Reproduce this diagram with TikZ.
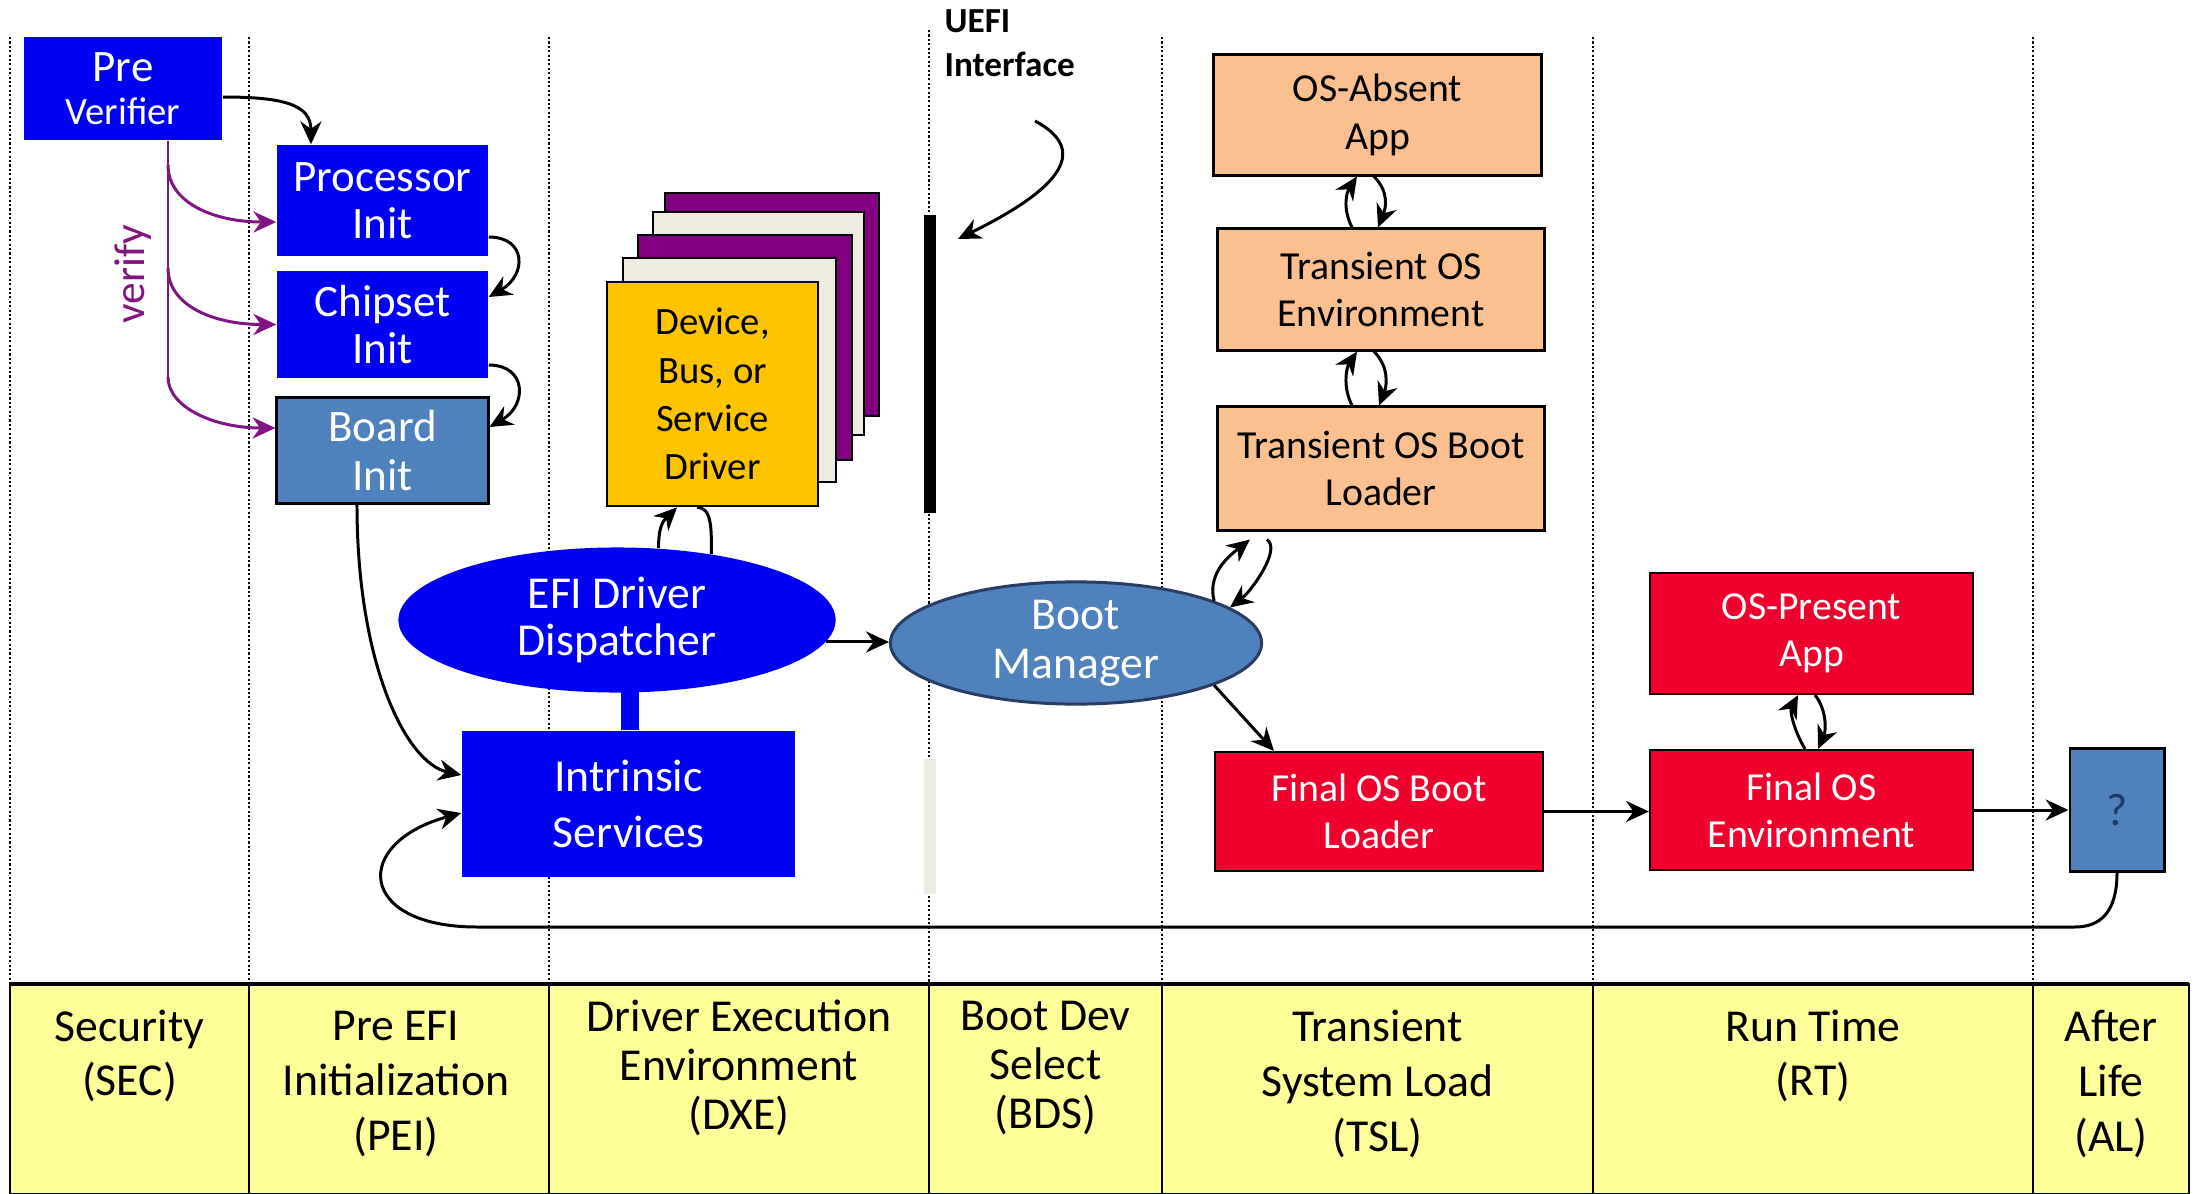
\documentclass[tikz,border=0pt]{standalone}
\usepackage{fontspec}
\setmainfont{Carlito}
\usetikzlibrary{arrows.meta,shapes.geometric}
\definecolor{efiblue}{RGB}{0,0,245}
\definecolor{steel}{RGB}{79,129,189}
\definecolor{peach}{RGB}{250,192,144}
\definecolor{efired}{RGB}{240,0,45}
\definecolor{gold}{RGB}{255,196,0}
\definecolor{cream}{RGB}{238,236,225}
\definecolor{stackpurple}{RGB}{128,0,128}
\definecolor{band}{RGB}{255,255,153}
\definecolor{vpurple}{RGB}{128,20,128}
\definecolor{navy}{RGB}{31,56,100}
\definecolor{ringnavy}{RGB}{40,60,100}
\begin{document}
\begin{tikzpicture}[x=0.01cm,y=-0.01cm,
  boxbase/.style={rectangle, inner sep=0pt, align=center},
  bluebox/.style={boxbase, fill=efiblue, text=white, font=\fontsize{12.8}{13.4}\selectfont},
  steelbox/.style={boxbase, fill=steel, draw=black, line width=0.85pt, text=white, font=\fontsize{12.8}{13.8}\selectfont},
  peachbox/.style={boxbase, fill=peach, draw=black, line width=0.85pt, text=black, font=\fontsize{11.3}{13.6}\selectfont},
  redbox/.style={boxbase, fill=efired, draw=black, line width=0.6pt, text=white, font=\fontsize{11.3}{13.4}\selectfont},
  layer/.style={draw=black, line width=0.75pt},
  conn/.style={line width=0.85pt, draw=black},
  arr/.style={conn, -{Stealth[length=6.5pt,width=6pt]}},
  varr/.style={line width=0.85pt, draw=vpurple, -{Stealth[length=6.5pt,width=6pt]}},
  dotline/.style={line width=0.65pt, dash pattern=on 0.6pt off 0.65pt},
  phase/.style={align=center, font=\fontsize{13}{15.6}\selectfont},
]
\useasboundingbox (0,0) rectangle (2203,1194);
\fill[white] (0,0) rectangle (2203,1194);

% dotted phase separators
\foreach \xx in {10,249,549,1162,1593,2033} {\draw[dotline] (\xx,37) -- (\xx,984);}
\draw[dotline] (929,30) -- (929,984);

% phase band
\draw[fill=band, line width=0.7pt] (10,984) rectangle (2189,1194);
\draw[line width=1.1pt] (10,984) -- (2189,984);
\foreach \xx in {249,549,929,1162,1593,2033} {\draw[line width=0.7pt] (\xx,984) -- (\xx,1194);}
\node[phase] (sec) at (129.5,1056) {Security\\(SEC)};
\node[phase] (pei) at (396,1084) {Pre EFI\\Initialization\\(PEI)};
\node[phase, font=\fontsize{13}{14}\selectfont] (dxe) at (739,1068) {Driver Execution\\Environment\\(DXE)};
\node[phase, font=\fontsize{13}{14}\selectfont] (bds) at (1045.5,1068) {Boot Dev\\Select\\(BDS)};
\node[phase] (tsl) at (1377.5,1084) {Transient\\System Load\\(TSL)};
\node[phase] (rt) at (1813,1056) {Run Time\\(RT)};
\node[phase] (al) at (2111,1084) {After\\Life\\(AL)};

% SEC / PEI
\node[bluebox, minimum width=1.98cm, minimum height=1.03cm, font=\fontsize{11}{12.2}\selectfont] (pv) at (123,88.5) {{\fontsize{12.8}{12.2}\selectfont Pre}\\Verifier};
\node[bluebox, minimum width=2.11cm, minimum height=1.11cm] (proc) at (382.5,200.5) {Processor\\Init};
\node[bluebox, minimum width=2.11cm, minimum height=1.07cm] (chip) at (382.5,324.5) {Chipset\\Init};
\node[steelbox, minimum width=2.11cm, minimum height=1.05cm] (board) at (382.5,450.5) {Board\\Init};
\node[rotate=90, text=vpurple, font=\fontsize{12.3}{14}\selectfont] (verify) at (133,274) {verify};

% driver stack
\draw[layer, fill=stackpurple] (665,193) rectangle (879,416);
\draw[layer, fill=cream] (653,212) rectangle (864,435);
\draw[layer, fill=stackpurple] (638,235) rectangle (852,460);
\draw[layer, fill=cream] (623,258) rectangle (836,482);
\node[boxbase, fill=gold, draw=black, line width=0.75pt, minimum width=2.11cm, minimum height=2.24cm, font=\fontsize{11}{13.7}\selectfont] (drv) at (712.5,394) {Device,\\Bus, or\\Service\\Driver};

\node[ellipse, inner sep=0pt, fill=efiblue, text=white, align=center, minimum width=4.37cm, minimum height=1.45cm, font=\fontsize{13}{13.6}\selectfont] (disp) at (617,620) {EFI Driver\\Dispatcher};
\node[bluebox, minimum width=3.33cm, minimum height=1.46cm, font=\fontsize{13}{15.9}\selectfont] (intr) at (628.5,804) {Intrinsic\\Services};
\draw[efiblue, line width=0.18cm, shorten >=-2pt] ([xshift=0.015cm]intr.north) -- ([xshift=0.015cm]intr.north |- disp.south);

% UEFI interface
\node[boxbase, fill=black, minimum width=0.12cm, minimum height=2.98cm] (ubar) at (930,364) {};
\node[boxbase, fill=cream, minimum width=0.12cm, minimum height=1.35cm] (gbar) at (930,826.5) {};
\node[anchor=west, align=left, inner sep=0pt, font=\bfseries\fontsize{10}{12.4}\selectfont] (uefi) at (944,43) {UEFI\\Interface};
\coordinate (uefistart) at (1035,121);
\coordinate (ueftip) at (958,239);
\draw[arr] (uefistart) .. controls (1080,145) and (1078,180) .. (ueftip);

% BDS / TSL
\node[ellipse, inner sep=0pt, fill=steel, draw=ringnavy, line width=0.85pt, text=white, align=center, minimum width=3.71cm, minimum height=1.20cm, font=\fontsize{13}{14}\selectfont] (bm) at (1076,643) {Boot\\Manager};
\node[peachbox, minimum width=3.27cm, minimum height=1.20cm] (osabs) at (1377.5,115) {OS-Absent\\App};
\node[peachbox, minimum width=3.26cm, minimum height=1.21cm] (tenv) at (1381,289.5) {Transient OS\\Environment};
\node[peachbox, minimum width=3.26cm, minimum height=1.23cm] (tload) at (1381,468.5) {Transient OS Boot\\Loader};
\node[redbox, minimum width=3.28cm, minimum height=1.19cm] (floader) at (1379,811.5) {Final OS Boot\\Loader};

% RT / AL
\node[redbox, minimum width=3.23cm, minimum height=1.21cm] (ospres) at (1811.5,633.5) {OS-Present\\App};
\node[redbox, minimum width=3.23cm, minimum height=1.20cm] (fenv) at (1811.5,810) {Final OS\\Environment};
\node[boxbase, fill=steel, draw=black, line width=0.85pt, text=navy, minimum width=0.94cm, minimum height=1.22cm, font=\fontsize{13}{15}\selectfont] (q) at (2117,810) {?};

% PEI connectors
\draw[arr] ([yshift=-0.085cm]pv.east) .. controls +(60,0) and +(0,-40) .. ([xshift=-0.715cm]proc.north);
\draw[arr] ([yshift=-0.365cm]proc.east) .. controls +(38,0) and +(38,-22) .. ([yshift=0.275cm]chip.east);
\draw[arr] ([yshift=-0.405cm]chip.east) .. controls +(38,0) and +(38,-22) .. ([yshift=0.235cm]board.east);

% verify connectors
\coordinate (trunk) at (168,377);
\coordinate (b1) at (168,165);
\coordinate (b2) at (168,268);
\draw[line width=0.85pt, vpurple] (trunk |- pv.south) -- (trunk);
\draw[varr] (b1) .. controls +(0,38) and +(-62,0) .. ([yshift=-0.215cm]proc.west);
\draw[varr] (b2) .. controls +(0,38) and +(-62,0) .. (chip.west);
\draw[varr] (trunk) .. controls +(0,30) and +(-62,0) .. ([yshift=0.225cm]board.west);

% DXE connectors
\draw[arr] ([xshift=-0.255cm]board.south) .. controls +(0,160) and +(-55,-12) .. ([yshift=0.29cm]intr.west);
\draw[arr] (disp.60) .. controls +(0,-25) and +(-12,12) .. ([xshift=-0.355cm]drv.south);
\draw[conn] ([xshift=-0.155cm]drv.south) .. controls +(15,0) and +(0,-25) .. (disp.35);
\draw[arr] (disp.-6) -- (disp.-6 -| bm.west);

% TSL connectors
\draw[arr] ([xshift=-0.29cm]tenv.north) .. controls +(-10,-20) and +(-10,15) .. ([xshift=-0.205cm]osabs.south);
\draw[arr] ([xshift=-0.035cm]osabs.south) .. controls +(15,15) and +(8,-20) .. ([xshift=-0.03cm]tenv.north);
\draw[arr] ([xshift=-0.29cm]tload.north) .. controls +(-10,-20) and +(-10,15) .. ([xshift=-0.24cm]tenv.south);
\draw[arr] ([xshift=-0.07cm]tenv.south) .. controls +(15,15) and +(8,-20) .. ([xshift=-0.02cm]tload.north);
\draw[arr] (bm.17) .. controls +(-8,-30) and +(-15,12) .. ([xshift=-1.31cm,yshift=-0.08cm]tload.south);
\draw[arr] ([xshift=-1.14cm,yshift=-0.08cm]tload.south) .. controls +(15,10) and +(20,-15) .. (bm.13);
\draw[arr] (bm.-17) -- ([xshift=-1.05cm]floader.north);

% RT connectors
\draw[arr] (floader.east) -- (floader.east -| fenv.west);
\draw[arr] ([xshift=-0.065cm]fenv.north) .. controls +(-12,-20) and +(-8,15) .. ([xshift=-0.135cm]ospres.south);
\draw[arr] ([xshift=0.035cm]ospres.south) .. controls +(12,15) and +(8,-18) .. ([xshift=0.065cm]fenv.north);
\draw[arr] (fenv.east) -- (q.west);

% return path
\coordinate (r1) at (2075,927);
\coordinate (r2) at (477,927);
\draw[arr] (q.south) .. controls +(0,40) and +(25,0) .. (r1) -- (r2) .. controls +(-120,0) and +(-110,30) .. ([yshift=-0.09cm]intr.west);
\end{tikzpicture}
\end{document}
